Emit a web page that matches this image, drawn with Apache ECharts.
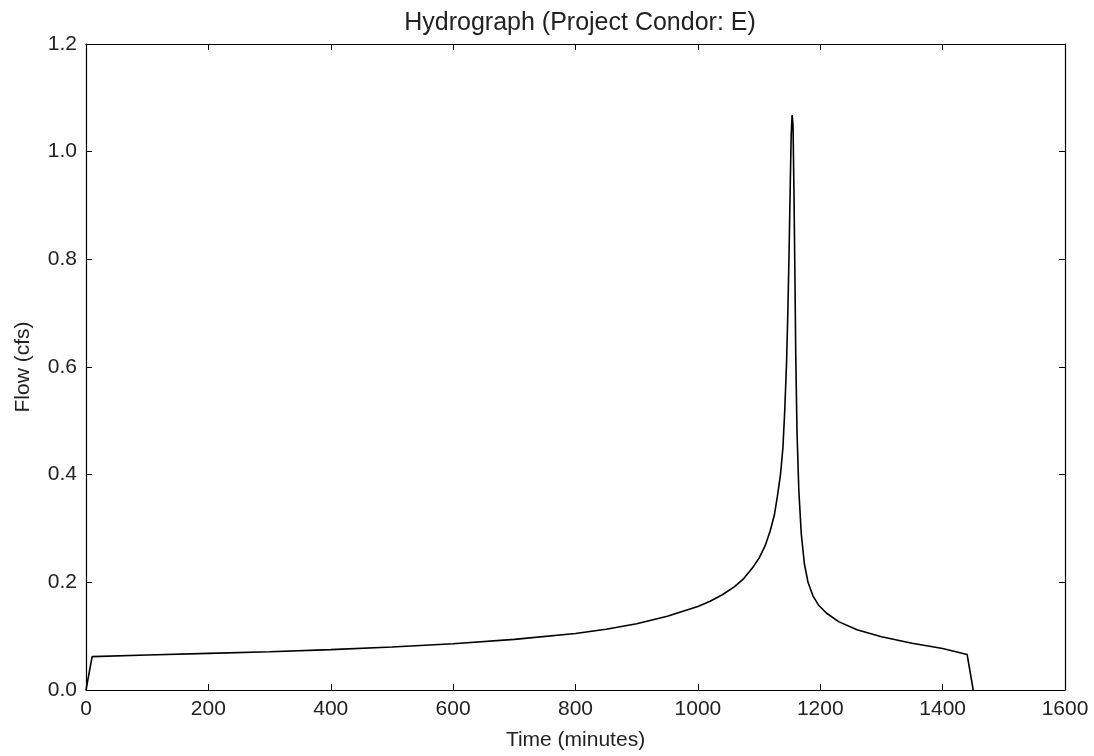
<!DOCTYPE html>
<html>
<head>
<meta charset="utf-8">
<script src="https://cdn.jsdelivr.net/npm/echarts@6/dist/echarts.min.js"></script>
<style>html,body{margin:0;padding:0;background:#fff;}#c{width:1094px;height:756px;}</style>
</head>
<body>
<div id="c"></div>
<script>
const timeMinutes = [0,10,100,200,300,400,500,600,700,800,850,900,950,1000,1020,1040,1060,1075,1090,1100,1110,1118,1125,1130,1135,1139,1142,1145,1147,1149,1151,1152.5,1154,1155.5,1157,1158.5,1160,1162,1165,1169,1174,1180,1188,1197,1210,1230,1260,1300,1350,1400,1440,1450];
const flowCfs = [0,0.062,0.065,0.068,0.071,0.075,0.080,0.086,0.094,0.105,0.113,0.123,0.137,0.155,0.165,0.177,0.192,0.207,0.228,0.245,0.268,0.295,0.325,0.36,0.40,0.45,0.52,0.61,0.70,0.81,0.94,1.03,1.068,1.05,0.93,0.78,0.62,0.48,0.37,0.29,0.235,0.20,0.175,0.158,0.143,0.127,0.112,0.099,0.087,0.077,0.066,0.0];
const xTicks = [0,200,400,600,800,1000,1200,1400,1600];
const yTicks = [0.0,0.2,0.4,0.6,0.8,1.0,1.2];

const font = "'Liberation Sans', Arial, sans-serif";
const txt = '#222';
const chart = echarts.init(document.getElementById('c'), null, {renderer:'canvas'});
const axisCommon = {
  axisLine:{show:true, onZero:false, lineStyle:{color:'#000', width:1.2}},
  axisTick:{show:true, inside:true, length:6, lineStyle:{color:'#000', width:1}},
  splitLine:{show:false}
};
chart.setOption({
  animation:false,
  backgroundColor:'#fff',
  title:{text:'Hydrograph (Project Condor: E)', left:575, textAlign:'center', top:6,
    textStyle:{fontFamily:font, fontSize:25, fontWeight:'normal', color:txt}},
  grid:{left:86, right:29, top:44, bottom:63, containLabel:false},
  xAxis:[
    Object.assign({type:'value', min:xTicks[0], max:xTicks[xTicks.length-1], interval:200, position:'bottom',
      name:'Time (minutes)', nameLocation:'middle', nameGap:40,
      nameTextStyle:{fontFamily:font, fontSize:21, color:txt},
      axisLabel:{fontFamily:font, fontSize:21, color:txt, margin:9, formatter:v=>String(v)}}, axisCommon),
    Object.assign({type:'value', min:xTicks[0], max:xTicks[xTicks.length-1], interval:200, position:'top',
      axisLabel:{show:false}}, axisCommon)
  ],
  yAxis:[
    Object.assign({type:'value', min:yTicks[0], max:yTicks[yTicks.length-1], interval:0.2, position:'left',
      name:'Flow (cfs)', nameLocation:'middle', nameGap:52, nameRotate:90,
      nameTextStyle:{fontFamily:font, fontSize:21, color:txt},
      axisLabel:{fontFamily:font, fontSize:21, color:txt, margin:9, formatter:v=>v.toFixed(1)}}, axisCommon),
    Object.assign({type:'value', min:yTicks[0], max:yTicks[yTicks.length-1], interval:0.2, position:'right',
      axisLabel:{show:false}}, axisCommon)
  ],
  series:[{
    type:'line', data:timeMinutes.map((t,i)=>[t,flowCfs[i]]),
    showSymbol:false, symbol:'none', smooth:false,
    lineStyle:{color:'#000', width:1.6}
  }]
});
</script>
</body>
</html>
